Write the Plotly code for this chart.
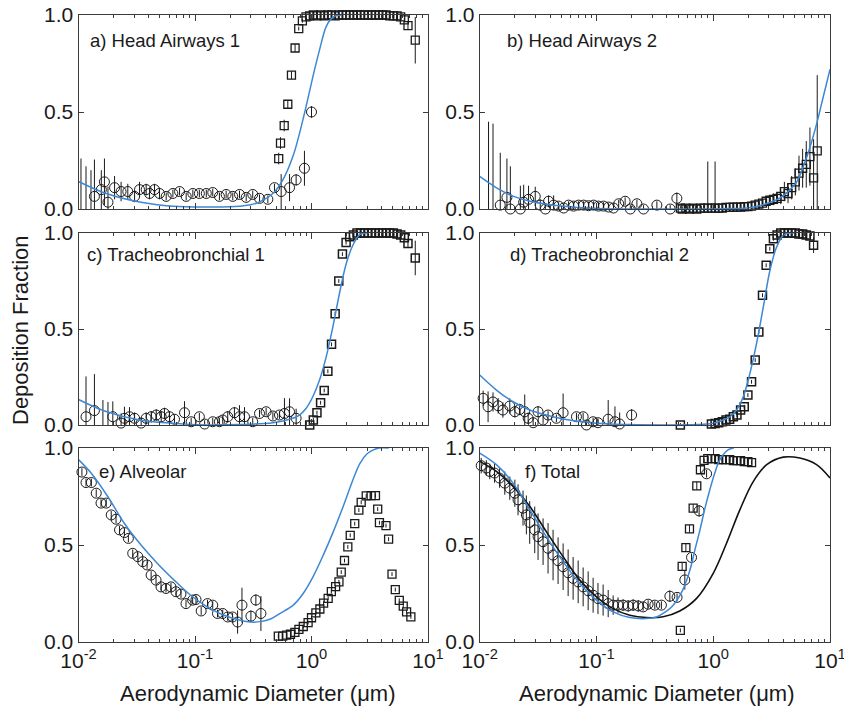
import plotly.graph_objects as go
from plotly.subplots import make_subplots

# ---------------- shared size channels (um) for the square markers ----------------
aps_d = [0.523, 0.542, 0.583, 0.626, 0.673, 0.723, 0.777, 0.835, 0.898, 0.965,
         1.037, 1.114, 1.197, 1.286, 1.382, 1.486, 1.596, 1.715, 1.843, 1.981,
         2.129, 2.288, 2.458, 2.642, 2.839, 3.051, 3.278, 3.523, 3.786, 4.068,
         4.371, 4.698, 5.048, 5.425, 5.829, 6.264, 6.732, 7.234, 7.774]

# ---------------- a) Head Airways 1 ----------------
a_circ_d = [0.0137, 0.0157, 0.0167, 0.0179, 0.0204, 0.0232, 0.0265, 0.0303, 0.0334, 0.0381,
            0.0407, 0.0449, 0.0496, 0.0566, 0.0646, 0.0737, 0.084, 0.0958, 0.109, 0.125,
            0.142, 0.162, 0.185, 0.211, 0.241, 0.275, 0.313, 0.358, 0.422, 0.481,
            0.549, 0.648, 0.738, 0.87, 1.0]
a_circ_f = [0.065, 0.10, 0.14, 0.035, 0.11, 0.09, 0.09, 0.065, 0.10, 0.10,
            0.08, 0.10, 0.08, 0.065, 0.08, 0.09, 0.065, 0.08, 0.08, 0.08,
            0.085, 0.065, 0.075, 0.065, 0.075, 0.06, 0.075, 0.055, 0.05, 0.11,
            0.09, 0.11, 0.15, 0.21, 0.50]
a_circ_e = [0.19, 0.10, 0.12, 0.08, 0.06, 0.05, 0.04, 0.03, 0.04, 0.03,
            0.03, 0.03, 0.03, 0.02, 0.02, 0.02, 0.02, 0.02, 0.02, 0.02,
            0.02, 0.02, 0.02, 0.02, 0.02, 0.02, 0.02, 0.02, 0.02, 0.02,
            0.09, 0.07, 0.03, 0.09, 0.03]
a_bar_d = [0.0105, 0.0116, 0.0128]
a_bar_f = [0.0, 0.0, 0.0]
a_bar_e = [0.26, 0.22, 0.20]
a_sq_f = [0.26, 0.34, 0.43, 0.54, 0.69, 0.83, 0.93, 0.97, 0.99, 0.995,
          1.0, 0.995, 1.0, 0.995, 1.0, 1.0, 0.995, 1.0, 1.0, 1.0,
          1.0, 1.0, 1.0, 1.0, 1.0, 1.0, 1.0, 1.0, 1.0, 1.0,
          1.0, 0.995, 0.995, 0.995, 0.99, 0.975, 0.945, None, 0.87]
a_sq_e = [0.03, 0.03, 0.03, 0.02, 0.02, 0.02, 0.01, 0.01, 0.01, 0.01,
          0.01, 0.01, 0.01, 0.01, 0.01, 0.01, 0.01, 0.01, 0.01, 0.01,
          0.01, 0.01, 0.01, 0.01, 0.01, 0.01, 0.01, 0.01, 0.01, 0.01,
          0.01, 0.01, 0.01, 0.01, 0.01, 0.01, 0.02, 0.0, 0.12]
a_fit_d = [0.01, 0.0173, 0.0334, 0.0646, 0.125, 0.241, 0.335, 0.466, 0.568, 0.692,
           0.789, 0.90, 1.026, 1.172, 1.336, 1.476, 1.63, 1.8]
a_fit_f = [0.142, 0.08, 0.036, 0.014, 0.01, 0.014, 0.03, 0.08, 0.15, 0.27,
           0.39, 0.53, 0.68, 0.82, 0.94, 0.98, 0.997, 1.0]

# ---------------- b) Head Airways 2 ----------------
b_circ_d = [0.0150, 0.0171, 0.0183, 0.0223, 0.0238, 0.0262, 0.0299, 0.0330, 0.0365, 0.0389,
            0.0430, 0.0474, 0.0524, 0.0577, 0.0637, 0.0703, 0.0776, 0.0856, 0.0945, 0.104,
            0.115, 0.127, 0.140, 0.155, 0.176, 0.195, 0.222, 0.253, 0.329, 0.428, 0.488]
b_circ_f = [0.02, 0.06, 0.0, 0.0, 0.035, 0.05, 0.065, 0.02, 0.0, 0.04,
            0.02, 0.015, 0.005, 0.02, 0.015, 0.02, 0.02, 0.017, 0.02, 0.015,
            0.015, 0.01, 0.005, 0.027, 0.04, 0.0, 0.027, 0.0, 0.02, 0.0, 0.055]
b_circ_e = [0.27, 0.20, 0.22, 0.12, 0.09, 0.07, 0.05, 0.03, 0.03, 0.03,
            0.05, 0.02, 0.02, 0.02, 0.02, 0.02, 0.02, 0.02, 0.02, 0.02,
            0.02, 0.02, 0.02, 0.02, 0.02, 0.02, 0.02, 0.02, 0.02, 0.02, 0.03]
b_bar_d = [0.0119, 0.0130]
b_bar_f = [0.0, 0.0]
b_bar_e = [0.45, 0.44]
b_sq_f = [0.005, 0.0, 0.005, 0.0, 0.005, 0.0, 0.005, 0.005, 0.005, 0.005,
          0.005, 0.005, 0.005, 0.008, 0.008, 0.01, 0.01, 0.01, 0.012, 0.012,
          0.015, 0.02, 0.025, 0.03, 0.04, 0.045, 0.05, 0.055, 0.065, 0.09,
          0.08, 0.11, 0.14, 0.185, 0.21, 0.23, 0.27, 0.16, 0.30]
b_sq_e = [0.01, 0.01, 0.01, 0.01, 0.01, 0.01, 0.01, 0.01, 0.24, 0.01,
          0.24, 0.01, 0.01, 0.01, 0.01, 0.01, 0.01, 0.01, 0.01, 0.01,
          0.01, 0.01, 0.015, 0.02, 0.02, 0.025, 0.03, 0.03, 0.04, 0.05,
          0.05, 0.06, 0.07, 0.09, 0.10, 0.12, 0.15, 0.20, 0.39]
b_fit_d = [0.01, 0.01406, 0.01954, 0.0271, 0.0524, 0.1009, 0.1945, 0.375, 0.723, 1.393,
           1.936, 2.685, 3.733, 4.55, 5.19, 5.92, 6.75, 7.69, 8.77, 10.0]
b_fit_f = [0.168, 0.108, 0.065, 0.04, 0.014, 0.003, 0.0, 0.0, 0.0, 0.002,
           0.005, 0.022, 0.057, 0.10, 0.14, 0.22, 0.32, 0.44, 0.58, 0.72]

# ---------------- c) Tracheobronchial 1 ----------------
c_circ_d = [0.0116, 0.0137, 0.0197, 0.0232, 0.0248, 0.0274, 0.0303, 0.0345, 0.0381, 0.0421,
            0.0465, 0.0513, 0.0547, 0.0604, 0.0667, 0.0813, 0.0927, 0.109, 0.121, 0.142,
            0.162, 0.173, 0.191, 0.218, 0.241, 0.266, 0.313, 0.358, 0.408, 0.466,
            0.531, 0.586, 0.648, 0.738]
c_circ_f = [0.043, 0.075, 0.043, 0.01, 0.035, 0.043, 0.035, 0.01, 0.035, 0.043,
            0.052, 0.043, 0.06, 0.043, 0.03, 0.064, 0.017, 0.043, 0.005, 0.017,
            0.017, 0.026, 0.043, 0.064, 0.043, 0.043, 0.017, 0.06, 0.069, 0.047,
            0.052, 0.06, 0.069, 0.035]
c_circ_e = [0.21, 0.19, 0.08, 0.05, 0.06, 0.05, 0.03, 0.03, 0.03, 0.03,
            0.03, 0.03, 0.03, 0.03, 0.02, 0.06, 0.02, 0.02, 0.02, 0.02,
            0.02, 0.02, 0.03, 0.03, 0.06, 0.05, 0.02, 0.02, 0.02, 0.02,
            0.02, 0.08, 0.07, 0.05]
c_bar_d = [0.0162, 0.0179]
c_bar_f = [0.0, 0.0]
c_bar_e = [0.13, 0.12]
c_sq_f = [None, None, None, None, None, None, None, None, None, 0.0,
          0.026, 0.064, 0.116, 0.18, 0.28, 0.42, 0.58, 0.75, 0.89, 0.95,
          0.98, 0.99, 1.0, 1.0, 1.0, 1.0, 1.0, 1.0, 1.0, 1.0,
          1.0, 1.0, 1.0, 0.995, 0.99, 0.975, 0.945, None, 0.87]
c_sq_e = [0.0, 0.0, 0.0, 0.0, 0.0, 0.0, 0.0, 0.0, 0.0, 0.01,
          0.01, 0.01, 0.01, 0.01, 0.01, 0.01, 0.01, 0.01, 0.01, 0.01,
          0.01, 0.01, 0.01, 0.01, 0.01, 0.01, 0.01, 0.01, 0.01, 0.01,
          0.01, 0.01, 0.01, 0.01, 0.01, 0.01, 0.02, 0.0, 0.09]
c_fit_d = [0.01, 0.01726, 0.0334, 0.0646, 0.1247, 0.241, 0.466, 0.647, 0.789, 0.90,
           1.026, 1.172, 1.337, 1.524, 1.738, 1.986, 2.265, 2.582, 2.851, 3.1]
c_fit_f = [0.133, 0.07, 0.026, 0.009, 0.0, 0.002, 0.012, 0.03, 0.052, 0.087,
           0.147, 0.234, 0.355, 0.51, 0.685, 0.84, 0.936, 0.99, 1.0, 1.0]

# ---------------- d) Tracheobronchial 2 ----------------
d_circ_d = [0.0107, 0.0118, 0.0130, 0.0144, 0.0158, 0.0181, 0.0200, 0.0220, 0.0243, 0.0260,
            0.0287, 0.0316, 0.0349, 0.0385, 0.0454, 0.0518, 0.0674, 0.0769, 0.0821, 0.0936,
            0.103, 0.126, 0.144, 0.158, 0.2]
d_circ_f = [0.139, 0.095, 0.12, 0.10, 0.078, 0.099, 0.069, 0.081, 0.069, 0.035,
            0.012, 0.069, 0.026, 0.052, 0.035, 0.064, 0.043, 0.043, 0.0, 0.017,
            0.012, 0.03, 0.017, 0.005, 0.052]
d_circ_e = [0.04, 0.08, 0.05, 0.04, 0.04, 0.04, 0.03, 0.03, 0.09, 0.03,
            0.03, 0.03, 0.02, 0.02, 0.02, 0.10, 0.02, 0.02, 0.02, 0.02,
            0.02, 0.10, 0.08, 0.06, 0.03]
d_sq_f = [0.0, None, None, None, None, None, None, -0.005, None, 0.005,
          0.008, 0.012, 0.017, 0.026, 0.03, 0.043, 0.052, 0.078, 0.095, 0.156,
          0.225, 0.338, 0.485, 0.676, 0.832, 0.918, 0.97, 0.99, 1.0, 1.0,
          1.0, 1.0, 1.0, 0.995, 0.995, 0.99, 0.985, 0.936, None]
d_sq_e = [0.01, 0.0, 0.0, 0.0, 0.0, 0.0, 0.0, 0.01, 0.0, 0.01,
          0.01, 0.01, 0.01, 0.01, 0.01, 0.01, 0.01, 0.01, 0.01, 0.01,
          0.01, 0.01, 0.01, 0.01, 0.01, 0.01, 0.01, 0.01, 0.01, 0.01,
          0.01, 0.01, 0.01, 0.01, 0.01, 0.01, 0.01, 0.04, 0.0]
d_fit_d = [0.01, 0.0139, 0.0193, 0.0269, 0.0372, 0.0518, 0.1, 0.193, 0.372, 0.719,
           1.0, 1.219, 1.39, 1.585, 1.807, 2.061, 2.35, 2.685, 3.062, 3.49,
           3.98, 4.54, 5.0]
d_fit_f = [0.26, 0.182, 0.121, 0.078, 0.052, 0.031, 0.009, 0.002, 0.0, 0.002,
           0.009, 0.026, 0.043, 0.078, 0.147, 0.269, 0.425, 0.615, 0.806, 0.927,
           0.988, 1.0, 1.0]

# ---------------- e) Alveolar ----------------
e_circ_d = [0.0107, 0.0116, 0.0129, 0.0142, 0.0156, 0.0173, 0.0191, 0.0210, 0.0225, 0.0248,
            0.0268, 0.0292, 0.0323, 0.0356, 0.0388, 0.0420, 0.0463, 0.0511, 0.0564, 0.0622,
            0.0687, 0.0758, 0.0837, 0.0955, 0.102, 0.113, 0.128, 0.142, 0.156, 0.173,
            0.191, 0.210, 0.232, 0.253, 0.302, 0.333, 0.368]
e_circ_f = [0.876, 0.822, 0.822, 0.767, 0.716, 0.716, 0.655, 0.633, 0.578, 0.564,
            0.534, 0.457, 0.44, 0.414, 0.397, 0.345, 0.319, 0.284, 0.276, 0.284,
            0.259, 0.247, 0.198, 0.216, 0.219, 0.16, 0.198, 0.19, 0.147, 0.147,
            0.129, 0.129, 0.103, 0.19, 0.133, 0.216, 0.147]
e_circ_e = [0.02, 0.02, 0.02, 0.02, 0.02, 0.02, 0.02, 0.02, 0.02, 0.02,
            0.02, 0.02, 0.02, 0.02, 0.02, 0.02, 0.02, 0.02, 0.02, 0.02,
            0.02, 0.02, 0.02, 0.02, 0.02, 0.02, 0.02, 0.02, 0.02, 0.02,
            0.02, 0.02, 0.06, 0.09, 0.03, 0.03, 0.09]
e_sq_d = [0.519, 0.566, 0.612, 0.66, 0.72, 0.78, 0.85, 0.935, 1.0, 1.09,
          1.18, 1.27, 1.39, 1.48, 1.61, 1.72, 1.80, 1.92, 2.05, 2.15,
          2.35, 2.55, 2.67, 2.95, 3.25, 3.54, 3.70, 3.83, 4.36, 4.59,
          4.91, 5.24, 5.67, 6.13, 6.55, 7.13]
e_sq_f = [0.03, 0.03, 0.035, 0.04, 0.05, 0.065, 0.08, 0.10, 0.125, 0.15,
          0.17, 0.20, 0.225, 0.26, 0.285, 0.31, 0.36, 0.42, 0.49, 0.55,
          0.61, 0.68, 0.72, 0.753, 0.755, 0.755, 0.685, 0.615, 0.60, 0.53,
          0.35, 0.27, 0.215, 0.185, 0.155, 0.13]
e_sq_e = [0.01, 0.01, 0.01, 0.01, 0.01, 0.01, 0.01, 0.01, 0.01, 0.01,
          0.01, 0.01, 0.01, 0.01, 0.01, 0.01, 0.01, 0.01, 0.01, 0.01,
          0.01, 0.01, 0.01, 0.01, 0.01, 0.01, 0.01, 0.01, 0.01, 0.01,
          0.01, 0.01, 0.01, 0.01, 0.01, 0.01]
e_fit_d = [0.01, 0.01282, 0.01782, 0.0247, 0.0344, 0.0476, 0.0662, 0.0918, 0.1274, 0.177,
           0.2455, 0.299, 0.364, 0.45, 0.537, 0.697, 0.848, 1.03, 1.256, 1.53,
           1.86, 2.3, 2.6, 3.0, 3.4, 3.8, 4.6]
e_fit_f = [0.94, 0.871, 0.75, 0.612, 0.5, 0.405, 0.319, 0.241, 0.181, 0.138,
           0.112, 0.103, 0.105, 0.12, 0.147, 0.19, 0.25, 0.336, 0.445, 0.565,
           0.695, 0.845, 0.92, 0.97, 0.99, 1.0, 1.0]

# ---------------- f) Total ----------------
f_circ_d = [0.0103, 0.0114, 0.0122, 0.0134, 0.0148, 0.0164, 0.0181, 0.0200, 0.0213, 0.0235,
            0.0251, 0.0268, 0.0296, 0.0316, 0.0349, 0.0385, 0.0425, 0.0469, 0.0518, 0.0572,
            0.0631, 0.0697, 0.0769, 0.0849, 0.0936, 0.103, 0.114, 0.126, 0.139, 0.153,
            0.169, 0.187, 0.206, 0.228, 0.251, 0.277, 0.316, 0.36, 0.425, 0.49,
            0.571, 0.652, 0.757, 0.877]
f_circ_f = [0.909, 0.897, 0.879, 0.871, 0.845, 0.819, 0.793, 0.767, 0.733, 0.69,
            0.655, 0.616, 0.578, 0.543, 0.517, 0.483, 0.448, 0.419, 0.388, 0.357,
            0.328, 0.31, 0.284, 0.264, 0.241, 0.224, 0.216, 0.198, 0.19, 0.19,
            0.19, 0.186, 0.19, 0.186, 0.181, 0.195, 0.19, 0.19, 0.236, 0.23,
            0.32, 0.436, 0.676, 0.867]
f_circ_e = [0.04, 0.04, 0.04, 0.05, 0.05, 0.06, 0.06, 0.07, 0.08, 0.09,
            0.10, 0.11, 0.12, 0.12, 0.12, 0.13, 0.13, 0.12, 0.12, 0.12,
            0.11, 0.11, 0.10, 0.10, 0.09, 0.08, 0.08, 0.07, 0.05, 0.04,
            0.03, 0.03, 0.03, 0.03, 0.02, 0.02, 0.02, 0.02, 0.03, 0.02,
            0.05, 0.02, 0.03, 0.02]
f_sq_d = [0.523, 0.542, 0.583, 0.626, 0.673, 0.723, 0.777, 0.835, 0.898, 0.965,
          1.037, 1.114, 1.197, 1.286, 1.382, 1.486, 1.596, 1.715, 1.843, 1.981, 2.129]
f_sq_f = [0.06, 0.39, 0.486, 0.583, 0.69, 0.805, 0.888, 0.936, 0.945, 0.945,
          0.945, 0.94, 0.94, 0.94, 0.94, 0.935, 0.935, 0.935, 0.93, 0.93, 0.925]
f_sq_e = [0.01, 0.02, 0.02, 0.02, 0.02, 0.02, 0.02, 0.01, 0.01, 0.01,
          0.01, 0.01, 0.01, 0.01, 0.01, 0.01, 0.01, 0.01, 0.01, 0.01, 0.01]
f_fit_d = [0.01, 0.0139, 0.0193, 0.0269, 0.0372, 0.0518, 0.072, 0.1, 0.139, 0.193,
           0.268, 0.327, 0.372, 0.454, 0.55, 0.631, 0.7, 0.769, 0.85, 0.935,
           1.03, 1.14, 1.34, 1.5]
f_fit_f = [0.974, 0.914, 0.819, 0.681, 0.543, 0.414, 0.302, 0.216, 0.155, 0.126,
           0.121, 0.129, 0.147, 0.19, 0.27, 0.37, 0.48, 0.577, 0.69, 0.785,
           0.87, 0.94, 0.99, 1.0]
f_ref_d = [0.01, 0.0139, 0.0193, 0.0269, 0.0372, 0.0518, 0.072, 0.1, 0.139, 0.193,
           0.268, 0.372, 0.517, 0.72, 1.0, 1.3, 1.69, 2.2, 2.87, 3.98,
           5.52, 7.67, 10.0]
f_ref_f = [0.931, 0.879, 0.802, 0.698, 0.569, 0.44, 0.319, 0.233, 0.172, 0.138,
           0.126, 0.13, 0.16, 0.225, 0.354, 0.509, 0.681, 0.827, 0.914, 0.953,
           0.948, 0.914, 0.845]

panel_labels = ["a) Head Airways 1", "b) Head Airways 2", "c) Tracheobronchial 1",
                "d) Tracheobronchial 2", "e) Alveolar", "f) Total"]
y_ticks = [0.0, 0.5, 1.0]
y_tick_text = ["0.0", "0.5", "1.0"]
x_ticks = [0.01, 0.1, 1.0, 10.0]
x_tick_text = ["10<sup>-2</sup>", "10<sup>-1</sup>", "10<sup>0</sup>", "10<sup>1</sup>"]
x_title = "Aerodynamic Diameter (\u03bcm)"
y_title = "Deposition Fraction"

# ---------------- styling ----------------
W, H = 844, 710
FONT = "Liberation Sans, Arial, Helvetica, sans-serif"
INK = "#1a1a1a"
AXC = "#3a3a3a"
BLUE = "#3d87d4"
col_px = [(78.5, 428.0), (479.7, 830.0)]
row_px = [(15.0, 209.0), (233.0, 425.0), (448.0, 642.0)]

fig = make_subplots(rows=3, cols=2)


def add_points(row, col, xs, ys, es, symbol, size, lw):
    fig.add_trace(go.Scatter(
        x=xs, y=ys, mode="markers", cliponaxis=False,
        marker=dict(symbol=symbol, size=size, color=INK, line=dict(width=lw, color=INK)),
        error_y=dict(type="data", array=es, symmetric=True, thickness=1, width=0, color=INK),
        hoverinfo="skip"), row=row, col=col)


def add_bars(row, col, xs, ys, es):
    fig.add_trace(go.Scatter(
        x=xs, y=ys, mode="markers",
        marker=dict(size=2, color="rgba(0,0,0,0)"),
        error_y=dict(type="data", array=es, arrayminus=ys, symmetric=False,
                     thickness=1, width=0, color=INK),
        hoverinfo="skip"), row=row, col=col)


def add_curve(row, col, xs, ys, color, width):
    fig.add_trace(go.Scatter(
        x=xs, y=ys, mode="lines",
        line=dict(color=color, width=width, shape="spline", smoothing=1.0),
        hoverinfo="skip"), row=row, col=col)


# a
add_bars(1, 1, a_bar_d, a_bar_f, a_bar_e)
add_points(1, 1, a_circ_d, a_circ_f, a_circ_e, "circle-open", 10, 1)
add_points(1, 1, aps_d, a_sq_f, a_sq_e, "square-open", 8, 1.3)
add_curve(1, 1, a_fit_d, a_fit_f, BLUE, 1.5)
# b
add_bars(1, 2, b_bar_d, b_bar_f, b_bar_e)
add_points(1, 2, b_circ_d, b_circ_f, b_circ_e, "circle-open", 10, 1)
add_points(1, 2, aps_d, b_sq_f, b_sq_e, "square-open", 8, 1.3)
add_curve(1, 2, b_fit_d, b_fit_f, BLUE, 1.5)
# c
add_bars(2, 1, c_bar_d, c_bar_f, c_bar_e)
add_points(2, 1, c_circ_d, c_circ_f, c_circ_e, "circle-open", 10, 1)
add_points(2, 1, aps_d, c_sq_f, c_sq_e, "square-open", 8, 1.5)
add_curve(2, 1, c_fit_d, c_fit_f, BLUE, 1.5)
# d
add_points(2, 2, d_circ_d, d_circ_f, d_circ_e, "circle-open", 10, 1)
add_points(2, 2, aps_d, d_sq_f, d_sq_e, "square-open", 8, 1.5)
add_curve(2, 2, d_fit_d, d_fit_f, BLUE, 1.5)
# e
add_points(3, 1, e_circ_d, e_circ_f, e_circ_e, "circle-open", 10, 1)
add_points(3, 1, e_sq_d, e_sq_f, e_sq_e, "square-open", 8, 1.3)
add_curve(3, 1, e_fit_d, e_fit_f, BLUE, 1.5)
# f
add_curve(3, 2, f_ref_d, f_ref_f, "#111111", 1.6)
add_points(3, 2, f_circ_d, f_circ_f, f_circ_e, "circle-open", 10, 1)
add_points(3, 2, f_sq_d, f_sq_f, f_sq_e, "square-open", 8, 1.3)
add_curve(3, 2, f_fit_d, f_fit_f, BLUE, 1.5)

for r in range(1, 4):
    for c in range(1, 3):
        x0, x1 = col_px[c - 1]
        y0, y1 = row_px[r - 1]
        fig.update_xaxes(
            row=r, col=c, type="log", range=[-2, 1], tickvals=x_ticks, ticktext=x_tick_text,
            domain=[x0 / W, x1 / W], showgrid=False, zeroline=False, automargin=False,
            showline=True, linecolor=AXC, linewidth=1, mirror="ticks",
            ticks="inside", ticklen=6, tickcolor=AXC, ticklabeloverflow="allow",
            minor=dict(ticks="inside", ticklen=3, dtick="D1", tickcolor=AXC, showgrid=False),
            showticklabels=(r == 3),
            tickfont=dict(family=FONT, size=21, color=INK))
        fig.update_yaxes(
            row=r, col=c, range=[0, 1], domain=[1 - y1 / H, 1 - y0 / H], automargin=False,
            tickvals=y_ticks, ticktext=y_tick_text, showgrid=False, zeroline=False,
            showline=True, linecolor=AXC, linewidth=1, mirror="ticks",
            ticks="inside", ticklen=5, tickcolor=AXC,
            tickfont=dict(family=FONT, size=21, color=INK))

label_pos = [(88, 40), (505, 40), (85, 255), (508, 255), (97, 471), (523, 471)]
annotations = []
for txt, (px, py) in zip(panel_labels, label_pos):
    annotations.append(dict(text=txt, x=px / W, y=1 - py / H, xref="paper", yref="paper",
                            xanchor="left", yanchor="middle", showarrow=False,
                            font=dict(family=FONT, size=18.5, color=INK)))
for cx in (258, 657):
    annotations.append(dict(text=x_title, x=cx / W, y=1 - 693 / H, xref="paper", yref="paper",
                            xanchor="center", yanchor="middle", showarrow=False,
                            font=dict(family=FONT, size=22, color=INK)))
annotations.append(dict(text=y_title, x=20 / W, y=1 - 330 / H, xref="paper", yref="paper",
                        xanchor="center", yanchor="middle", showarrow=False, textangle=-90,
                        font=dict(family=FONT, size=22, color=INK)))

fig.update_layout(width=W, height=H, margin=dict(l=0, r=0, t=0, b=0, autoexpand=False),
                  paper_bgcolor="white", plot_bgcolor="white", showlegend=False,
                  annotations=annotations, font=dict(family=FONT, color=INK))

fig.write_html("out.html", config={"displayModeBar": False},
               post_script="document.body.style.margin='0px';document.body.style.overflow='hidden';")
